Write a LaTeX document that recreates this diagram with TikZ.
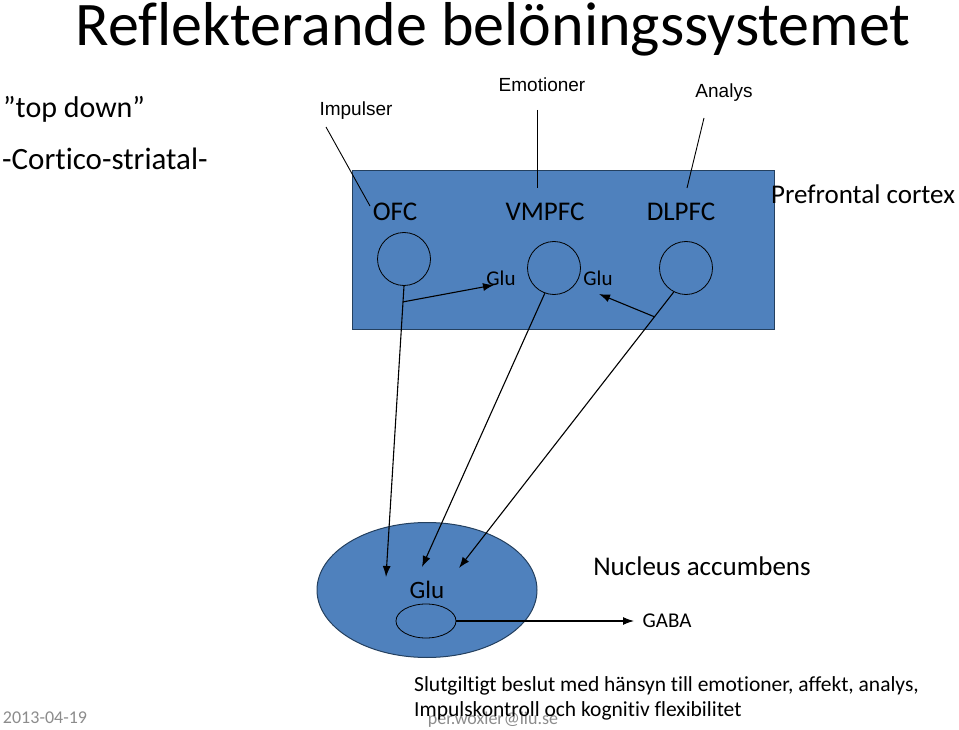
\documentclass[tikz,border=0pt]{standalone}
\usepackage{fontspec}
\setmainfont{Carlito}[Ligatures=NoCommon]
\newfontfamily\arialfont{Liberation Sans}
\usetikzlibrary{arrows.meta,positioning,shapes.geometric,calc}
\definecolor{pfcblue}{HTML}{4F81BD}
\definecolor{pfcedge}{HTML}{24405F}
\definecolor{footgray}{HTML}{8C8C8C}
\newcommand{\fsz}[1]{\fontsize{#1}{#1}\selectfont}

\begin{document}
\begin{tikzpicture}[x=1pt, y=-1pt,
area/.style={draw=pfcedge, fill=pfcblue, line width=1pt},
cell/.style={draw, circle, minimum size=53pt, inner sep=0pt, line width=0.8pt},
region/.style={font=\fsz{27}, inner sep=0pt},
input/.style={font=\arialfont\fsz{19}, inner sep=0pt},
glu/.style={font=\fsz{21}, inner sep=0pt},
arrow/.style={-{Latex[length=11pt,width=8pt]}, line width=1.1pt},
pointer/.style={line width=0.9pt},
stamp/.style={text=footgray, font=\fsz{18}, inner sep=0pt},
note/.style={font=\fsz{21.5}, inner sep=0pt, anchor=base west}
]
\useasboundingbox (0,0) rectangle (959,730);

% headings
\node[font=\fsz{62}, inner sep=0pt, anchor=base] (title) at (493,46) {Reflekterande belöningssystemet};
\node[font=\fsz{30}, inner sep=0pt, anchor=base west] (topdown) at (3,118) {”top down”};
\node[font=\fsz{31}, inner sep=0pt, anchor=base west] (cortico) at (2,170) {-Cortico-striatal-};

% prefrontal cortex
\node[area, rectangle, minimum width=422pt, minimum height=158pt] (pfc) at (563,250) {};
\node[font=\fsz{27}, inner sep=0pt] (pfclabel) at (863,194) {Prefrontal cortex};
\node[region] (ofc) at (395,212) {OFC};
\node[region] (vmpfc) at (545,212) {VMPFC};
\node[region] (dlpfc) at (681,212) {DLPFC};
\node[cell] (ofccell) at (404,259) {};
\node[cell] (vmcell) at (554,268) {};
\node[cell] (dlcell) at (686,268) {};
\node[glu] (glua) at (501,278) {Glu};
\node[glu] (glub) at (598,278) {Glu};

% inputs
\node[input] (impulser) at (356,111) {Impulser};
\node[input] (emotioner) at (542,85) {Emotioner};
\node[input] (analys) at (724,93) {Analys};
\coordinate (impA) at (326,127);
\coordinate (impB) at (370,206);
\coordinate (emoA) at (537,110);
\coordinate (emoB) at (537,188);
\coordinate (anaA) at (704,118);
\coordinate (anaB) at (687,188);
\draw[pointer] (impA) -- (impB);
\draw[pointer] (emoA) -- (emoB);
\draw[pointer] (anaA) -- (anaB);

% nucleus accumbens
\node[area, ellipse, minimum width=220pt, minimum height=135pt] (nacc) at (427,590) {};
\node[draw, ellipse, minimum width=60pt, minimum height=34pt, line width=0.8pt] (core) at (426,621) {};
\node[font=\fsz{25}, inner sep=0pt] (naccglu) at (427,590) {Glu};
\node[font=\fsz{27}, inner sep=0pt] (nacclabel) at (702,566) {Nucleus accumbens};
\node[font=\fsz{21}, inner sep=0pt] (gaba) at (667,621) {GABA};

% projections
\coordinate (ofctip) at (386,577);
\coordinate (vmtip) at (422,567);
\coordinate (dltip) at (459,568);
\coordinate (gluatip) at (494,285);
\coordinate (glubtip) at (599,294);
\coordinate (gabatip) at (634,621);
\coordinate (ofcfork) at ($(ofccell.south)!0.055!(ofctip)$);
\coordinate (dlfork) at ($(dlcell.-117)!0.09!(dltip)$);
\draw[arrow] (ofccell.south) -- (ofctip);
\draw[arrow] (vmcell.-110) -- (vmtip);
\draw[arrow] (dlcell.-117) -- (dltip);
\draw[arrow] (ofcfork) -- (gluatip);
\draw[arrow] (dlfork) -- (glubtip);
\draw[arrow] (core.east) -- (gabatip);

% footer
\node[stamp] (mail) at (493,720) {per.woxler@liu.se};
\node[stamp] (date) at (45,718) {2013-04-19};
\node[note] (line1) at (414,691) {Slutgiltigt beslut med hänsyn till emotioner, affekt, analys,};
\node[note] (line2) at (414,716) {Impulskontroll och kognitiv flexibilitet};
\end{tikzpicture}
\end{document}
